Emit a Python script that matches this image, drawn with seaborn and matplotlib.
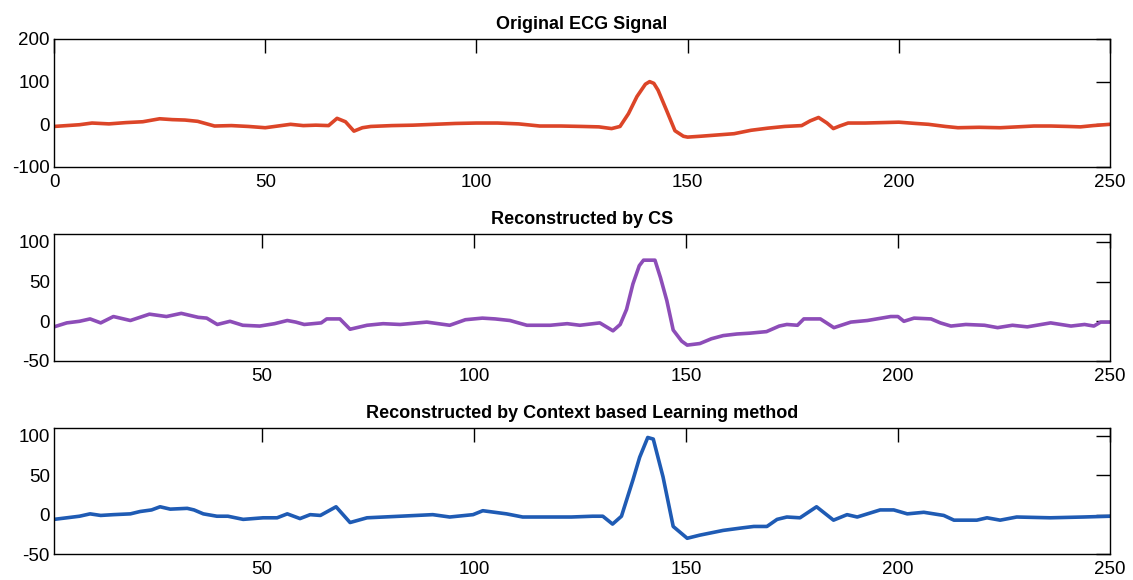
import pandas as pd
import matplotlib
matplotlib.use("Agg")
import matplotlib.pyplot as plt
import seaborn as sns

# Original ECG Signal (sample, amplitude)
orig_x = [0, 3, 6, 9, 13, 17, 21, 25, 28, 31, 34, 38, 42, 46, 50, 53, 56, 59, 62, 65,
          67, 69, 71, 73, 75, 80, 85, 90, 95, 100, 105, 110, 115, 120, 125, 129, 132,
          134, 136, 138, 140, 141, 142, 143, 145, 147, 149, 150, 153, 157, 161, 165,
          169, 173, 177, 179, 181, 183, 184.5, 186, 188, 192, 196, 200, 204, 207, 211,
          214, 219, 224, 228, 232, 236, 240, 243, 246, 250]
orig_y = [-5, -3, -1, 3, 1, 4, 6, 13, 11, 10, 7, -4, -3, -5, -8, -4, 0, -3, -2, -3,
          14, 6, -16, -8, -5, -3, -2, 0, 2, 3, 3, 1, -4, -4, -5, -6, -10,
          -5, 25, 65, 94, 100, 96, 80, 33, -15, -28, -30, -28, -25, -22, -14,
          -9, -5, -3, 8, 16, 3, -10, -4, 3, 3, 4, 5, 2, 0, -5,
          -8, -7, -8, -6, -4, -4, -5, -6, -3, 0]

# Reconstructed by CS
cs_x = [1, 4, 7, 9.5, 12, 15, 19, 23.5, 27.5, 31, 35, 37, 39.5, 42.5, 45.5, 49.5, 53,
        56, 58, 60, 64, 65.3, 68.4, 70.8, 74.8, 78.6, 82.6, 88.9, 94.3, 98, 102, 105,
        108.5, 112.5, 118, 122, 125, 129.7, 132.8, 134.5, 136, 137.5, 139, 140, 142.7,
        144, 145.5, 147, 149, 150.3, 153.3, 156, 158.8, 162, 165, 169, 172, 173.8,
        176.3, 177.8, 181.7, 184.9, 188.9, 192.8, 198.3, 200, 201.4, 203.8, 207.8, 210,
        212.5, 216, 220.4, 223.5, 227, 230.5, 236, 240.8, 244, 246.2, 247.8, 250]
cs_y = [-7, -2, 0, 3, -2, 6, 1, 9, 6, 10, 5, 4, -4, 0, -5, -6, -3,
        1, -1, -4, -2, 3, 3, -10, -5, -3, -4, -1, -5, 2, 4, 3,
        1, -5, -5, -3, -5, -2, -12, -4, 15, 47, 70, 77, 77,
        55, 26, -11, -25, -30, -28, -22, -18, -16, -15, -13, -6, -4,
        -5, 3, 3, -8, -1, 1, 6, 6, 0, 4, 3, -2,
        -6, -4, -5, -8, -5, -7, -2, -6, -4, -6, -1, -1]

# Reconstructed by Context based Learning method
cl_x = [1, 4, 7, 9.5, 12, 15, 19, 21.3, 24, 26, 28.4, 32.4, 34, 36.2, 39.4, 42, 45.6,
        50.3, 53.6, 56, 59, 61.4, 63.8, 67.5, 70.8, 74.8, 82.6, 90.3, 94.3, 99.8, 102.1,
        107.7, 111.5, 117.9, 123, 128, 130.4, 132.7, 134.8, 137.5, 139.1, 141, 142.3,
        144.6, 147, 150.3, 153.3, 158.8, 163, 166, 169.1, 171.5, 173.8, 176.9, 180.8,
        184.8, 188, 190.4, 195.8, 199, 202.2, 206.1, 210.8, 213.2, 218.6, 221, 224.1,
        228, 235.9, 243.7, 250]
cl_y = [-6, -4, -2, 1, -1, 0, 1, 4, 6, 10, 7, 8, 6, 1, -2, -2, -6,
        -4, -4, 1, -5, 0, -1, 10, -10, -4, -2, 0, -3, 0, 5,
        1, -3, -3, -3, -2, -2, -12, -2, 44, 73, 98, 96,
        48, -15, -30, -26, -20, -17, -15, -15, -6, -3, -4, 10,
        -7, 0, -3, 6, 6, 1, 3, -1, -7, -7, -4, -7,
        -3, -4, -3, -2]

titles = ["Original ECG Signal", "Reconstructed by CS",
          "Reconstructed by Context based Learning method"]

sns.set_style("white")
plt.rcParams["font.family"] = ["Liberation Sans", "DejaVu Sans"]
plt.rcParams["axes.unicode_minus"] = False

fig = plt.figure(figsize=(11.33, 5.8), dpi=100)
boxes = [[0.0477, 0.7121, 0.932, 0.2207],
         [0.0477, 0.3776, 0.932, 0.2190],
         [0.0477, 0.0448, 0.932, 0.2172]]
series = [(orig_x, orig_y, "#dc4528"), (cs_x, cs_y, "#8d4db8"), (cl_x, cl_y, "#1f5bb4")]

for i, (box, (xs, ys, col)) in enumerate(zip(boxes, series)):
    ax = fig.add_axes(box)
    df = pd.DataFrame({"x": xs, "y": ys})
    sns.lineplot(data=df, x="x", y="y", ax=ax, color=col, linewidth=2.6, sort=False)
    if i == 0:
        ax.set_xlim(0, 250)
        ax.set_ylim(-100, 200)
        ax.set_yticks([-100, 0, 100, 200])
        ax.set_xticks([0, 50, 100, 150, 200, 250])
    else:
        ax.set_xlim(1, 250)
        ax.set_ylim(-50, 110)
        ax.set_yticks([-50, 0, 50, 100])
        ax.set_xticks([50, 100, 150, 200, 250])
    ax.set_xlabel("")
    ax.set_ylabel("")
    ax.set_title(titles[i], fontsize=13, fontweight="bold", pad=7, color="black")
    ax.tick_params(direction="in", top=True, right=True, length=10, width=1,
                   labelsize=13.5, color="black", labelcolor="black")
    ax.tick_params(axis="x", pad=5)
    ax.tick_params(axis="y", pad=3)
    for s in ax.spines.values():
        s.set_color("black")
        s.set_linewidth(1)

fig.savefig("out.png", dpi=100)
